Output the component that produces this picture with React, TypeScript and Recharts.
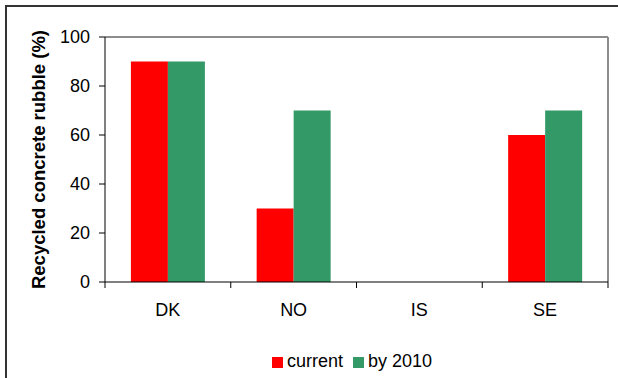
import { BarChart, Bar, XAxis, YAxis, Legend, ReferenceLine } from 'recharts';

const countries = ['DK', 'NO', 'IS', 'SE'];
const current = [90, 30, 0, 60];
const by2010 = [90, 70, 0, 70];
const yTicks = [0, 20, 40, 60, 80, 100];
const seriesOrder = ['current', 'by 2010'];

const rows = countries.map((c, i) => ({ country: c, current: current[i], by2010: by2010[i] }));

const font = '"Liberation Sans", Arial, sans-serif';

// country label centred in its band, with tick marks on the band edges
function CountryTick(props: any) {
  const { x, y, payload, index, visibleTicksCount } = props;
  const half = payload.offset ?? 0;
  const last = index === visibleTicksCount - 1;
  return (
    <g>
      <line x1={x - half} x2={x - half} y1={y} y2={y + 6} stroke="#000" />
      {last && <line x1={x + half} x2={x + half} y1={y} y2={y + 6} stroke="#000" />}
      <text x={x} y={y + 34} textAnchor="middle" fontSize={18} fontFamily={font} fill="#000">
        {payload.value}
      </text>
    </g>
  );
}

export default function App() {
  return (
    <div style={{ position: 'absolute', left: 0, top: 0, width: 618, height: 378, background: '#fff', fontFamily: font, overflow: 'hidden' }}>
      <div style={{ position: 'absolute', left: 5, top: 5, width: 640, height: 400, borderTop: '2px solid #333', borderLeft: '2px solid #333' }} />
      <BarChart
        width={618}
        height={378}
        data={rows}
        margin={{ top: 37, right: 10, bottom: 45, left: 0 }}
        barCategoryGap="20.6%"
        barGap={0}
        style={{ position: 'absolute', left: 0, top: 0 }}
      >
        <XAxis
          dataKey="country"
          height={30}
          stroke="#000"
          tickLine={false}
          tickSize={0}
          tickMargin={0}
          interval={0}
          tick={<CountryTick />}
        />
        <YAxis
          width={105}
          domain={[0, 100]}
          ticks={yTicks}
          tickSize={6}
          tickMargin={9}
          stroke="#000"
          tick={{ fill: '#000', fontSize: 18, fontFamily: font }}
          label={{
            value: 'Recycled concrete rubble (%)',
            angle: -90,
            position: 'insideLeft',
            offset: 38,
            style: { textAnchor: 'middle', fontSize: 18.5, fontWeight: 'bold', fill: '#000', fontFamily: font },
          }}
        />
        <ReferenceLine y={100} stroke="#8c8c8c" strokeWidth={2} />
        <ReferenceLine x="SE" position="end" stroke="#8c8c8c" strokeWidth={2} />
        <Legend
          iconType="square"
          iconSize={11}
          itemSorter={(item) => seriesOrder.indexOf(String(item.value))}
          wrapperStyle={{ top: 351, left: 272, width: 'auto', fontSize: 18, color: '#000' }}
          formatter={(v) => <span style={{ color: '#000' }}>{v}</span>}
        />
        <Bar dataKey="current" name="current" fill="#FF0000" isAnimationActive={false} />
        <Bar dataKey="by2010" name="by 2010" fill="#339966" isAnimationActive={false} />
      </BarChart>
    </div>
  );
}
